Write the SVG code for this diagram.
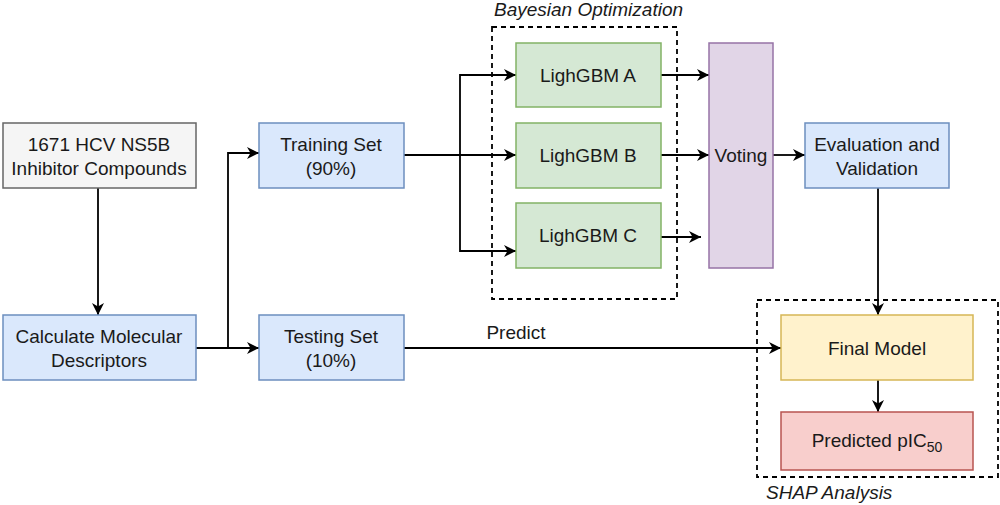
<svg xmlns="http://www.w3.org/2000/svg" width="1000" height="505" viewBox="0 0 1000 505">
<defs>
<marker id="ah" viewBox="0 0 12 12" refX="12" refY="6" markerWidth="12" markerHeight="12" markerUnits="userSpaceOnUse" orient="auto">
<path d="M0,0 L12,6 L0,12 L3.5,6 Z" fill="#000"/>
</marker>
<style>
text{font-family:"Liberation Sans",Arial,sans-serif;font-size:19px;fill:#1a1a1a;text-anchor:middle}
.it{font-style:italic;text-anchor:start}
.blue{fill:#dae8fc;stroke:#6c8ebf;stroke-width:1.5}
.grey{fill:#f5f5f5;stroke:#666;stroke-width:1.5}
.green{fill:#d5e8d4;stroke:#82b366;stroke-width:1.5}
.purple{fill:#e1d5e7;stroke:#9673a6;stroke-width:1.5}
.yellow{fill:#fff2cc;stroke:#d6b656;stroke-width:1.5}
.red{fill:#f8cecc;stroke:#b85450;stroke-width:1.5}
.dash{fill:none;stroke:#000;stroke-width:1.8;stroke-dasharray:5,4}
.c{fill:none;stroke:#000;stroke-width:1.8}
</style>
</defs>
<g id="groups">
<rect class="dash" x="492" y="27" width="185" height="272"/>
<text class="it" x="494" y="16">Bayesian Optimization</text>
<rect class="dash" x="757" y="300" width="241" height="177"/>
<text class="it" x="766" y="499">SHAP Analysis</text>
</g>
<g id="connectors">
<path class="c" d="M98,188 V315" marker-end="url(#ah)"/>
<path class="c" d="M196,348 H259" marker-end="url(#ah)"/>
<path class="c" d="M228,348 V153 H259" marker-end="url(#ah)"/>
<path class="c" d="M404,155 H516" marker-end="url(#ah)"/>
<path class="c" d="M460,155 V75 H516" marker-end="url(#ah)"/>
<path class="c" d="M460,155 V251 H516" marker-end="url(#ah)"/>
<path class="c" d="M661,75 H709" marker-end="url(#ah)"/>
<path class="c" d="M661,155 H709" marker-end="url(#ah)"/>
<path class="c" d="M661,237 H701" marker-end="url(#ah)"/>
<path class="c" d="M773,155 H805" marker-end="url(#ah)"/>
<path class="c" d="M878,188 V315" marker-end="url(#ah)"/>
<path class="c" d="M404,348 H781" marker-end="url(#ah)"/>
<text x="516" y="339">Predict</text>
<path class="c" d="M878,380 V412" marker-end="url(#ah)"/>
</g>
<g id="compounds">
<rect class="grey" x="3" y="123" width="193" height="65"/>
<text x="99" y="151">1671 HCV NS5B</text>
<text x="99" y="175">Inhibitor Compounds</text>
</g>
<g id="calc">
<rect class="blue" x="3" y="315" width="193" height="65"/>
<text x="99" y="343">Calculate Molecular</text>
<text x="99" y="367">Descriptors</text>
</g>
<g id="training">
<rect class="blue" x="259" y="123" width="145" height="65"/>
<text x="331" y="151">Training Set</text>
<text x="331" y="175">(90%)</text>
</g>
<g id="testing">
<rect class="blue" x="259" y="315" width="145" height="65"/>
<text x="331" y="343">Testing Set</text>
<text x="331" y="367">(10%)</text>
</g>
<g id="lgbmA">
<rect class="green" x="516" y="43" width="145" height="64"/>
<text x="588" y="82">LighGBM A</text>
</g>
<g id="lgbmB">
<rect class="green" x="516" y="123" width="145" height="65"/>
<text x="588" y="162">LighGBM B</text>
</g>
<g id="lgbmC">
<rect class="green" x="516" y="203" width="145" height="65"/>
<text x="588" y="242">LighGBM C</text>
</g>
<g id="voting">
<rect class="purple" x="709" y="43" width="64" height="225"/>
<text x="741" y="162">Voting</text>
</g>
<g id="evaluation">
<rect class="blue" x="805" y="123" width="144" height="65"/>
<text x="877" y="151">Evaluation and</text>
<text x="877" y="175">Validation</text>
</g>
<g id="final">
<rect class="yellow" x="781" y="315" width="192" height="65"/>
<text x="877" y="355">Final Model</text>
</g>
<g id="predicted">
<rect class="red" x="781" y="412" width="192" height="58"/>
<text x="877" y="447">Predicted pIC<tspan font-size="14" dy="5">50</tspan></text>
</g>
</svg>
